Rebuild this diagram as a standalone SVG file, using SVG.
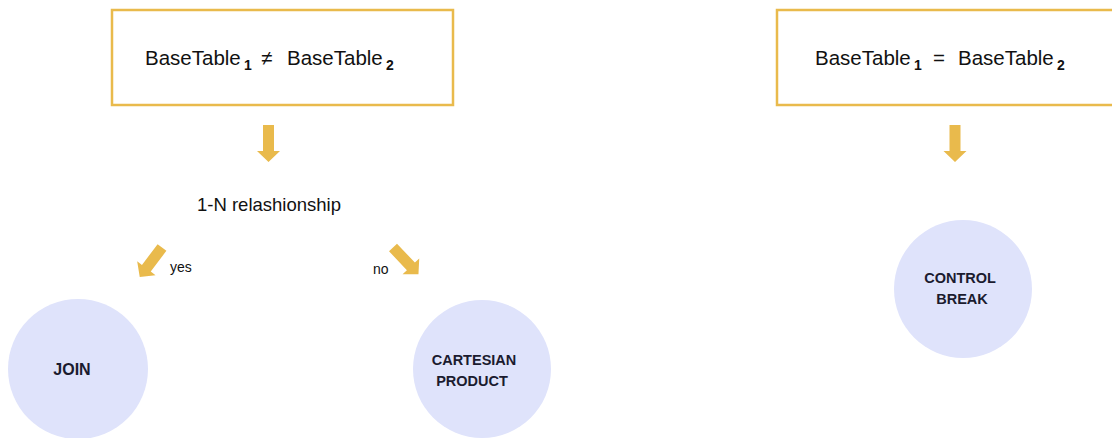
<svg xmlns="http://www.w3.org/2000/svg" width="1112" height="438" viewBox="0 0 1112 438">
  <style>
    .box { fill: #ffffff; stroke: #E9BA4C; stroke-width: 2.5; }
    .arrow { fill: #E9BA4C; stroke: none; }
    .circle { fill: #DFE3FB; stroke: none; }
    .main { font-family: "Liberation Sans", Arial, sans-serif; font-size: 20.5px; fill: #111111; }
    .sub { font-family: "Liberation Sans", Arial, sans-serif; font-size: 14px; font-weight: bold; fill: #111111; }
    .label { font-family: "Liberation Sans", Arial, sans-serif; font-size: 18.5px; fill: #111111; }
    .small { font-family: "Liberation Sans", Arial, sans-serif; font-size: 14px; fill: #111111; }
    .node { font-family: "Liberation Sans", Arial, sans-serif; font-size: 14.5px; font-weight: bold; fill: #1B1B2F; text-anchor: middle; }
  </style>
  <defs>
    <path id="blockArrow" d="M-5.5,0 H5.5 V26 H11.5 L0,37 L-11.5,26 H-5.5 Z"/>
  </defs>
  <rect width="1112" height="438" fill="#ffffff"/>

  <g id="condition-diff">
    <rect class="box" x="112" y="10" width="341" height="95"/>
    <text class="main" x="145" y="65">BaseTable</text>
    <text class="sub" x="244" y="70">1</text>
    <text class="main" x="261" y="65">≠</text>
    <text class="main" x="287" y="65">BaseTable</text>
    <text class="sub" x="386" y="70">2</text>
  </g>

  <g id="condition-equal">
    <rect class="box" x="777" y="10" width="350" height="95"/>
    <text class="main" x="815" y="65">BaseTable</text>
    <text class="sub" x="914" y="70">1</text>
    <text class="main" x="933" y="65">=</text>
    <text class="main" x="958" y="65">BaseTable</text>
    <text class="sub" x="1057" y="70">2</text>
  </g>

  <g id="relationship">
    <text class="label" x="197" y="211">1-N relashionship</text>
  </g>

  <g id="join">
    <circle class="circle" cx="78" cy="369" r="70"/>
    <text class="node" x="72" y="375" style="font-size:16px">JOIN</text>
  </g>

  <g id="cartesian">
    <circle class="circle" cx="482" cy="369" r="69"/>
    <text class="node" x="474" y="365">CARTESIAN</text>
    <text class="node" x="472" y="386">PRODUCT</text>
  </g>

  <g id="control-break">
    <circle class="circle" cx="963" cy="289" r="69"/>
    <text class="node" x="960" y="283">CONTROL</text>
    <text class="node" x="962" y="304">BREAK</text>
  </g>

  <g id="connectors">
    <use href="#blockArrow" class="arrow" transform="translate(268.5,125)"/>
    <use href="#blockArrow" class="arrow" transform="translate(955,125)"/>
    <use href="#blockArrow" class="arrow" transform="translate(162,247.5) rotate(37)"/>
    <use href="#blockArrow" class="arrow" transform="translate(393,247.5) rotate(-43.5)"/>
    <text class="small" x="170" y="272">yes</text>
    <text class="small" x="373" y="274">no</text>
  </g>
</svg>
